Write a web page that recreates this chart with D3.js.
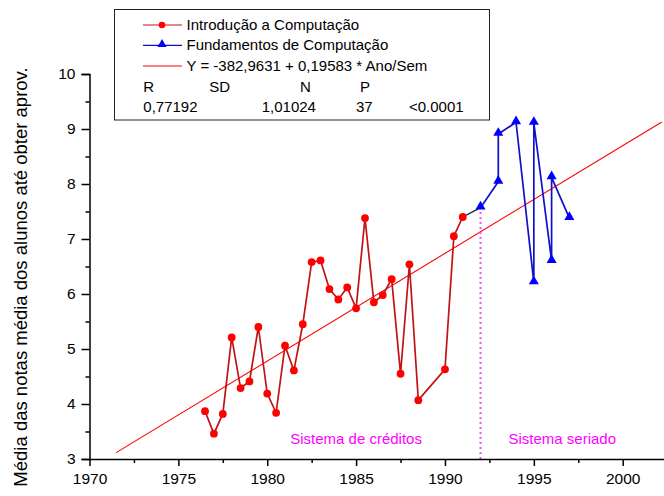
<!DOCTYPE html>
<html>
<head>
<meta charset="utf-8">
<script src="https://cdn.jsdelivr.net/npm/d3@7"></script>
<style>
  body { margin: 0; background: #fff; }
  svg { display: block; }
  text { font-family: "Liberation Sans", Arial, sans-serif; fill: #000; }
</style>
</head>
<body>
<svg id="chart" width="664" height="496"></svg>
<script>
// Semester-by-semester averages, "Introdução a Computação" (credit system)
const introYears = [1976.5, 1977, 1977.5, 1978, 1978.5, 1979, 1979.5, 1980, 1980.5, 1981,
                    1981.5, 1982, 1982.5, 1983, 1983.5, 1984, 1984.5, 1985, 1985.5, 1986,
                    1986.5, 1987, 1987.5, 1988, 1988.5, 1990, 1990.5, 1991];
const introValues = [3.87, 3.46, 3.82, 5.21, 4.29, 4.41, 5.40, 4.19, 3.84, 5.06,
                     4.61, 5.45, 6.58, 6.61, 6.09, 5.90, 6.12, 5.74, 7.38, 5.85,
                     5.98, 6.27, 4.55, 6.54, 4.07, 4.63, 7.05, 7.40];

// "Fundamentos de Computação" (annual system)
const fundYears = [1992, 1993, 1993, 1994, 1995, 1995, 1996, 1996, 1997];
const fundValues = [7.57, 8.04, 8.91, 9.12, 6.21, 9.11, 6.60, 8.12, 7.38];

const xTicks = [1970, 1975, 1980, 1985, 1990, 1995, 2000];
const xMinorTicks = [1972.5, 1977.5, 1982.5, 1987.5, 1992.5, 1997.5];
const yTicks = [3, 4, 5, 6, 7, 8, 9, 10];
const yMinorTicks = [3.5, 4.5, 5.5, 6.5, 7.5, 8.5, 9.5];

// Linear fit Y = a + b * Ano/Sem
const fitIntercept = -382.9631;
const fitSlope = 0.19583;
const fitStart = 1971.5;
const fitEnd = 2002.2;

const statsHeader = ["R", "SD", "N", "P"];
const statsValues = ["0,77192", "1,01024", "37", "<0.0001"];

const regimeChangeYear = 1992;
const regimeLabels = ["Sistema de créditos", "Sistema seriado"];
const regimeLabelYears = [1985, 1996.6];

const svg = d3.select("#chart");

const x = d3.scaleLinear().domain([1970, 2000]).range([89.5, 622.7]);
const y = d3.scaleLinear().domain([3, 10]).range([459, 74]);
const xEnd = 664;

// ---- regression line
const fitLine = d3.line().x(d => x(d)).y(d => y(fitIntercept + fitSlope * d));
svg.append("path")
  .attr("d", fitLine([fitStart, fitEnd]))
  .attr("fill", "none").attr("stroke", "#ff0000").attr("stroke-width", 1.1);

// ---- regime change marker, up to the first annual-system point
svg.append("line")
  .attr("x1", x(regimeChangeYear)).attr("x2", x(regimeChangeYear))
  .attr("y1", y(3)).attr("y2", y(fundValues[0]))
  .attr("stroke", "#ee55ee").attr("stroke-width", 2)
  .attr("stroke-dasharray", "2,3");

svg.selectAll(".regime")
  .data(regimeLabels)
  .join("text")
  .attr("class", "regime")
  .attr("x", (d, i) => x(regimeLabelYears[i]))
  .attr("y", 444)
  .attr("text-anchor", "middle")
  .attr("font-size", 15)
  .style("fill", "#ff00ff")
  .text(d => d);

// ---- series
const intro = introYears.map((yr, i) => [yr, introValues[i]]);
const fund = fundYears.map((yr, i) => [yr, fundValues[i]]);
const line = d3.line().x(d => x(d[0])).y(d => y(d[1]));

// bridge between the two course periods
svg.append("path")
  .attr("d", line([intro[intro.length - 1], fund[0]]))
  .attr("fill", "none").attr("stroke", "#222").attr("stroke-width", 1.4);

svg.append("path")
  .attr("d", line(intro))
  .attr("fill", "none").attr("stroke", "#c01414").attr("stroke-width", 1.7);

svg.append("path")
  .attr("d", line(fund))
  .attr("fill", "none").attr("stroke", "#1010c8").attr("stroke-width", 1.7);

svg.selectAll(".intro-pt")
  .data(intro)
  .join("circle")
  .attr("class", "intro-pt")
  .attr("cx", d => x(d[0])).attr("cy", d => y(d[1]))
  .attr("r", 3.9).attr("fill", "#ff0000");

const tri = d3.symbol().type(d3.symbolTriangle).size(44);
svg.selectAll(".fund-pt")
  .data(fund)
  .join("path")
  .attr("class", "fund-pt")
  .attr("transform", d => `translate(${x(d[0])},${y(d[1]) - 1})`)
  .attr("d", tri).attr("fill", "#0000ff");

// ---- axes
const axisG = svg.append("g");

const xAxis = axisG.append("g").attr("transform", `translate(0,${y(3)})`)
  .call(d3.axisBottom(x).tickValues(xTicks).tickFormat(d3.format("d")).tickSizeOuter(0).tickSize(7));
xAxis.select(".domain").attr("d", `M${x(1970)},0.5H${xEnd}`);
axisG.append("g").attr("transform", `translate(0,${y(3)})`)
  .call(d3.axisBottom(x).tickValues(xMinorTicks).tickFormat("").tickSize(4))
  .select(".domain").remove();

const yAxis = axisG.append("g").attr("transform", `translate(${x(1970)},0)`)
  .call(d3.axisLeft(y).tickValues(yTicks).tickFormat(d3.format("d")).tickSizeOuter(0).tickSize(8));
axisG.append("g").attr("transform", `translate(${x(1970)},0)`)
  .call(d3.axisLeft(y).tickValues(yMinorTicks).tickFormat("").tickSize(4))
  .select(".domain").remove();

axisG.selectAll(".domain, .tick line").attr("stroke", "#000").attr("stroke-width", 1.5);
xAxis.selectAll(".tick text").attr("font-size", 15.5).attr("dy", "0.78em").attr("y", 13)
  .style("font-family", "'Liberation Sans', Arial, sans-serif");
yAxis.selectAll(".tick text").attr("font-size", 15.5).attr("x", -14)
  .style("font-family", "'Liberation Sans', Arial, sans-serif");

svg.append("text")
  .attr("transform", "translate(27,277) rotate(-90)")
  .attr("text-anchor", "middle")
  .attr("font-size", 18.5)
  .text("Média das notas média dos alunos até obter aprov.");

// ---- legend box
const lg = svg.append("g");
lg.append("rect")
  .attr("x", 114.5).attr("y", 9.5).attr("width", 375).attr("height", 110.5)
  .attr("fill", "#fff").attr("stroke", "#222").attr("stroke-width", 1);

const legendRows = [
  { label: "Introdução a Computação", color: "#ff0000", stroke: "#c01414", mark: "circle" },
  { label: "Fundamentos de Computação", color: "#0000ff", stroke: "#1010c8", mark: "triangle" },
  { label: `Y = ${String(fitIntercept).replace(".", ",")} + ${String(fitSlope).replace(".", ",")} * Ano/Sem`, color: "#ff0000", stroke: "#ff0000", mark: "none" }
];
const rowBaseline = [30, 50.3, 71];
legendRows.forEach((r, i) => {
  const cy = rowBaseline[i] - 5;
  lg.append("line").attr("x1", 143).attr("x2", 182).attr("y1", cy).attr("y2", cy)
    .attr("stroke", r.stroke).attr("stroke-width", 1.2);
  if (r.mark === "circle") {
    lg.append("circle").attr("cx", 162).attr("cy", cy).attr("r", 3.3).attr("fill", r.color);
  } else if (r.mark === "triangle") {
    lg.append("path").attr("transform", `translate(162,${cy - 1})`)
      .attr("d", d3.symbol().type(d3.symbolTriangle).size(36)).attr("fill", r.color);
  }
  lg.append("text").attr("x", 186.5).attr("y", rowBaseline[i]).attr("font-size", 15).text(r.label);
});

const headerX = [143.3, 209.3, 300, 360];
const valueX = [143.3, 261.7, 356, 409];
statsHeader.forEach((t, i) => {
  lg.append("text").attr("x", headerX[i]).attr("y", 91.7).attr("font-size", 15).text(t);
});
statsValues.forEach((t, i) => {
  lg.append("text").attr("x", valueX[i]).attr("y", 111.7).attr("font-size", 15).text(t);
});
</script>
</body>
</html>
